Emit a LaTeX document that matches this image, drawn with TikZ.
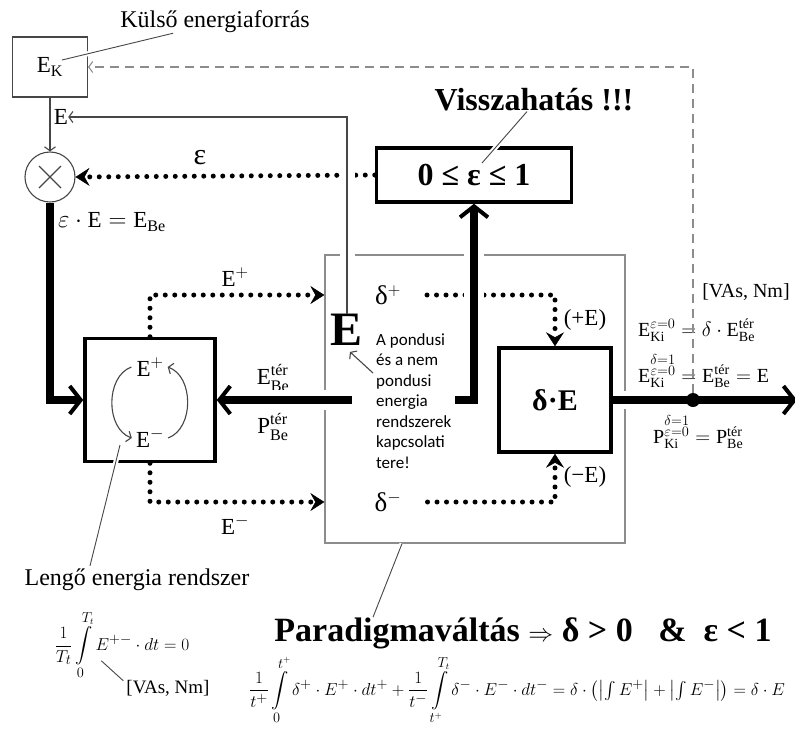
\documentclass[tikz,border=0pt]{standalone}
\usepackage{amsmath}
\usepackage{fontspec}
\setmainfont{Liberation Serif}
\newfontfamily\calibrifont{Carlito}
\usetikzlibrary{positioning,arrows.meta,calc}
\definecolor{ThinGray}{RGB}{70,70,70}
\definecolor{FrameGray}{RGB}{140,140,140}
\newcommand{\fsz}[1]{\fontsize{#1}{#1}\selectfont}
\tikzset{
  thinline/.style={draw=ThinGray,line width=1.1pt},
  openflow/.style={thinline,-{Straight Barb[length=4pt,width=11pt,line width=1.1pt]}},
  dashflow/.style={openflow,draw=FrameGray,dash pattern=on 9pt off 6pt},
  bigflow/.style={line width=8pt,-{Straight Barb[length=11pt,width=28pt,line width=4pt]}},
  dotflow/.style={line width=5pt,line cap=round,dash pattern=on 0pt off 9.5pt,
    -{Stealth[length=14pt,width=18pt,inset=5pt,line width=0.5pt]}},
  blkbox/.style={draw,line width=3.5pt,fill=white},
  framebox/.style={draw=FrameGray,line width=1.3pt},
  halo/.style={draw=white,line width=#1},
  callout/.style={draw=ThinGray,line width=0.9pt,preaction={draw=white,line width=5pt}},
  lbl/.style={font=\fsz{23}}
}
\begin{document}
\begin{tikzpicture}[x=1pt,y=-1pt,every node/.style={inner sep=0pt}]
  \useasboundingbox (0,0) rectangle (795,729);
  % coupling space
  \node[framebox,minimum width=300pt,minimum height=288pt] (tere) at (475,399) {};
  % boxes
  \node[thinline,minimum width=75pt,minimum height=60pt,lbl] (ek) at (50,67) {E$_{\text{K}}$};
  \node[circle,thinline,minimum size=50pt] (mult) at (50,177) {};
  \draw[thinline] (mult.center) +(-11,-11) -- +(11,11) (mult.center) +(-11,11) -- +(11,-11);
  \node[blkbox,minimum width=195pt,minimum height=54pt,font=\fsz{32}\bfseries] (epsbox) at (474,175) {0 ≤ ε ≤ 1};
  \node[blkbox,minimum width=130pt,minimum height=123pt] (lengo) at (150,400) {};
  \node[blkbox,minimum width=112pt,minimum height=104pt,font=\fsz{30}\bfseries] (debox) at (555,400) {δ·E};
  % labels
  \node[lbl] (epl) at (150,367) {E$^{+}$};
  \node[lbl] (emi) at (150,438) {E$^{-}$};
  \draw[openflow] ([xshift=-5pt]epl.west) to[bend right=70] ([xshift=-4pt]emi.west);
  \draw[openflow] ([xshift=4pt]emi.east) to[bend right=70] ([xshift=4pt]epl.east);
  \node[lbl] (elbl) at (61,117) {E};
  \node[lbl,anchor=west] (ebe) at (58,222) {$\varepsilon\cdot\text{E} = \text{E}_{\text{Be}}$};
  \node[font=\fsz{30}] (epslbl) at (200,158) {ε};
  \node[lbl] (eplbl) at (235,277) {E$^{+}$};
  \node[lbl] (emilbl) at (235,525) {E$^{-}$};
  \node[lbl] (ebeter) at (273,378) {$\text{E}^{\text{tér}}_{\text{Be}}$};
  \node[lbl] (pbeter) at (273,427) {$\text{P}^{\text{tér}}_{\text{Be}}$};
  \node[font=\fsz{48}\bfseries] (bigE) at (347,330) {E};
  \node[font=\calibrifont\fontsize{17}{20.5}\selectfont,align=left,anchor=north west] (kapcs) at (376,333)
    {A pondusi\\és a nem\\pondusi\\energia\\rendszerek\\kapcsolati\\tere!};
  \node[font=\fsz{27}] (dplus) at (388,295) {δ$^{+}$};
  \node[font=\fsz{27}] (dminus) at (388,502) {δ$^{-}$};
  \node[lbl] (pluse) at (585,320) {(+E)};
  \node[lbl] (minuse) at (585,477) {(−E)};
  \node[font=\fsz{20}] (vas) at (746,292) {[VAs, Nm]};
  \node[font=\fsz{20},anchor=west] (eki1) at (638,330)
    {$\text{E}^{\varepsilon=0}_{\text{Ki}} = \delta\cdot\text{E}^{\text{tér}}_{\text{Be}}$};
  \node[font=\fsz{20},anchor=west] (eki2) at (638,371)
    {$\text{E}^{\substack{\delta=1\\ \varepsilon=0}}_{\text{Ki}} = \text{E}^{\text{tér}}_{\text{Be}} = \text{E}$};
  \node[font=\fsz{20},anchor=west] (pki) at (653,432)
    {$\text{P}^{\substack{\delta=1\\ \varepsilon=0}}_{\text{Ki}} = \text{P}^{\text{tér}}_{\text{Be}}$};
  \node[font=\fsz{24}] (kulso) at (215,22) {Külső energiaforrás};
  \node[font=\fsz{32}\bfseries] (vissza) at (534,100) {Visszahatás !!!};
  \node[font=\fsz{24}] (lengotxt) at (137,580) {Lengő energia rendszer};
  \node[font=\fsz{34}\bfseries] (para) at (523,633) {Paradigmaváltás $\Rightarrow$ δ > 0 \enspace\&\enspace ε < 1};
  \node[font=\fsz{19}] (fml1) at (122,645) {$\displaystyle\frac{1}{T_t}\int\limits_0^{T_t} E^{+-}\cdot dt = 0$};
  \node[font=\fsz{19}] (vas2) at (168,688) {[VAs, Nm]};
  \node[font=\fsz{19}] (fml2) at (517,690) {$\displaystyle\frac{1}{t^{+}}\int\limits_{0}^{t^{+}}\delta^{+}\cdot E^{+}\cdot dt^{+}
    + \frac{1}{t^{-}}\int\limits_{t^{+}}^{T_t}\delta^{-}\cdot E^{-}\cdot dt^{-}
    = \delta\cdot\bigl(\bigl|\textstyle\int E^{+}\bigr| + \bigl|\textstyle\int E^{-}\bigr|\bigr) = \delta\cdot E$};
  % dotted flows
  \draw[dotflow] (epsbox.west) -- (mult.east);
  \draw[dotflow] (lengo.north) |- (dplus -| tere.west);
  \draw[dotflow] (lengo.south) |- (dminus -| tere.west);
  \draw[dotflow] ([xshift=26pt]dplus.east) -| (debox.north);
  \draw[dotflow] ([xshift=26pt]dminus.east) -| (debox.south);
  % thin flows
  \draw[halo=15pt] (347,150) -- (347,268);
  \draw[openflow] (bigE.north) |- (elbl.east);
  \draw[openflow] (ek.south) -- (mult.north);
  % thick flows
  \coordinate (tj) at (352,400);
  \coordinate (ts) at (455,400);
  \coordinate (outend) at (797,400);
  \draw[bigflow] (mult.south) |- (lengo.west);
  \draw[halo=20pt] (tj) -- ([xshift=30pt]lengo.east);
  \draw[bigflow] (tj) -- (lengo.east);
  \draw[halo=20pt] (ts) -| ([yshift=-25pt]epsbox.south);
  \draw[bigflow] (ts) -| (epsbox.south);
  \draw[halo=18pt] ([xshift=6pt]debox.east) -- ([xshift=30pt]debox.east);
  \draw[bigflow] (debox.east) -- (outend);
  \node[circle,fill,minimum size=14pt] (jn) at (693,400) {};
  \draw[dashflow] (jn.north) |- (ek.east);
  % callouts
  \draw[callout] ([xshift=-42pt]kulso.south) -- ([xshift=12pt,yshift=7pt]ek.center);
  \draw[callout] ([xshift=-7pt]vissza.south) -- ([xshift=8pt,yshift=12pt]epsbox.center);
  \draw[callout] ([xshift=-47pt,yshift=3pt]lengotxt.north) -- ([xshift=-30pt,yshift=-45pt]lengo.center);
  \draw[callout] ([xshift=-150pt]para.north) -- ([xshift=-73pt]tere.south);
  \draw[callout] ([xshift=-3pt,yshift=-1pt]vas2.north west) -- ++(-22,-20);
  \draw[openflow] ([xshift=-3pt,yshift=-40pt]kapcs.north west) -- ([xshift=3pt,yshift=-6pt]bigE.south);
\end{tikzpicture}
\end{document}
